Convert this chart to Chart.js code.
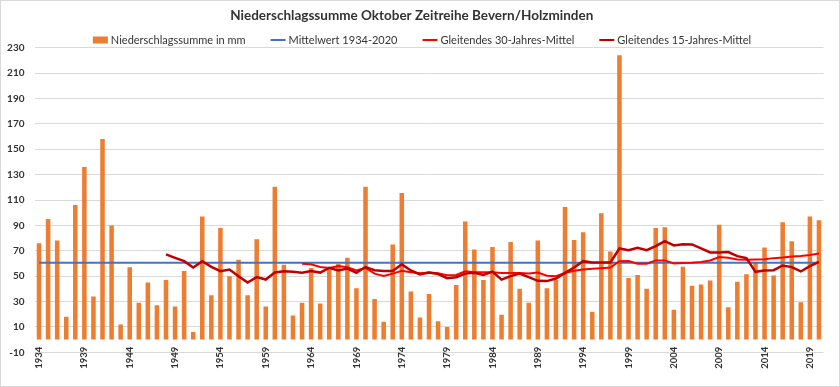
<!DOCTYPE html>
<html><head><meta charset="utf-8">
<script src="https://cdn.jsdelivr.net/npm/chart.js@4"></script>
<style>html,body{margin:0;padding:0;background:#fff}#wrap{width:840px;height:387px}</style>
</head><body><div id="wrap"><canvas id="c" width="840" height="387"></canvas></div>
<script>
const years = [1934,1935,1936,1937,1938,1939,1940,1941,1942,1943,
  1944,1945,1946,1947,1948,1949,1950,1951,1952,1953,
  1954,1955,1956,1957,1958,1959,1960,1961,1962,1963,
  1964,1965,1966,1967,1968,1969,1970,1971,1972,1973,
  1974,1975,1976,1977,1978,1979,1980,1981,1982,1983,
  1984,1985,1986,1987,1988,1989,1990,1991,1992,1993,
  1994,1995,1996,1997,1998,1999,2000,2001,2002,2003,
  2004,2005,2006,2007,2008,2009,2010,2011,2012,2013,
  2014,2015,2016,2017,2018,2019,2020];
const precip = [76,95,78,18,106,136,34,158,90,12,
  57,29,45,27,47,26,54,6,97,35,
  88,50,63,35,79,26,120.5,59,19,29,
  56.5,28.5,57,59.5,64.5,40.5,120.5,32,14,75,
  115.5,38,17.5,36,14.5,10,43,93,71,47,
  73,19.5,77,40,29,78,40.5,47,104.5,78.5,
  84.5,22,99.5,69.5,224,48.5,51,40,88,88.5,
  23.5,57.5,42.5,43.5,46.5,90.5,25.5,45.5,51.5,60.5,
  72.5,50.5,92.5,77.5,29.5,97,94];
const meanValue = 60.5;
const ma30 = [null,null,null,null,null,null,null,null,null,null,
  null,null,null,null,null,null,null,null,null,null,
  null,null,null,null,null,null,null,null,null,59.7,
  59.3,57.2,56.5,58,57,54.5,56.5,52,50.2,52,
  54.2,53,52.3,52.8,52.3,50.8,51,53.8,53,53,
  53,52.5,52.5,52.5,52,52.9,50.3,50,52.5,54.3,
  55.2,55.8,56.3,56.8,61.8,62,59.8,59.8,62.4,62.4,
  60,60.3,60.6,61.1,62.4,65,64.5,63.2,62.9,63.2,
  63.4,64.2,64.7,65.5,65.8,66.6,67.9];
const ma15 = [null,null,null,null,null,null,null,null,null,null,
  null,null,null,null,67.1,64.4,61.8,56.8,61.8,57.3,
  53.9,55.2,50,45,49.2,47.3,52.9,53.9,53.4,52.6,
  54,52.8,56.5,54.5,56,52.6,57.2,54.7,54,54,
  59.3,54.5,51.3,52.8,51.7,48.4,49.2,52,52.6,51,
  53.6,47.3,50,52,49.2,46.3,46.1,48.1,52.6,56.8,
  61.8,60.8,60.8,60.8,71.8,70.5,72.3,70.5,73.6,77.6,
  74.2,75.2,75,71.8,68.7,68.7,69,65.8,64.2,53.4,
  54.5,54.7,58.4,57.1,53.7,57.9,61.2];
const tickYears = [1934,1939,1944,1949,1954,1959,1964,1969,1974,1979,1984,1989,1994,1999,2004,2009,2014,2019];
const seriesNames = ['Niederschlagssumme in mm','Mittelwert 1934-2020','Gleitendes 30-Jahres-Mittel','Gleitendes 15-Jahres-Mittel'];
const chartTitle = 'Niederschlagssumme Oktober Zeitreihe Bevern/Holzminden';

const FONT = 'Lato';

const bgPlugin = {
  id: 'bg',
  beforeDraw(chart) {
    const ctx = chart.ctx;
    ctx.save();
    ctx.fillStyle = '#fff';
    ctx.fillRect(0, 0, chart.width, chart.height);
    ctx.strokeStyle = '#d9d9d9';
    ctx.lineWidth = 1;
    ctx.strokeRect(0.5, 0.5, chart.width - 1, chart.height - 1);
    ctx.restore();
  }
};

const legendPlugin = {
  id: 'customLegend',
  afterDraw(chart) {
    const ctx = chart.ctx;
    ctx.save();
    ctx.font = '11px ' + FONT;
    ctx.textBaseline = 'middle';
    ctx.textAlign = 'left';
    const items = chart.data.datasets.map(ds => ({
      text: ds.label,
      bar: ds.type === 'bar',
      color: ds.type === 'bar' ? ds.backgroundColor : ds.borderColor,
      lw: ds.borderWidth
    }));
    const boxW = 15, gap = 3, itemGap = 25;
    let total = 0;
    items.forEach((it, i) => { it.w = ctx.measureText(it.text).width; total += boxW + gap + it.w + (i ? itemGap : 0); });
    let x = 422 - total / 2;
    const y = 40;
    items.forEach(it => {
      if (it.bar) {
        ctx.fillStyle = it.color;
        ctx.fillRect(x, y - 3.5, boxW, 7);
      } else {
        ctx.strokeStyle = it.color;
        ctx.lineWidth = 2;
        ctx.beginPath();
        ctx.moveTo(x, y);
        ctx.lineTo(x + boxW, y);
        ctx.stroke();
      }
      ctx.fillStyle = '#333';
      ctx.fillText(it.text, x + boxW + gap, y + 0.5);
      x += boxW + gap + it.w + itemGap;
    });
    ctx.restore();
  }
};

new Chart(document.getElementById('c'), {
  type: 'bar',
  data: {
    labels: years.map(String),
    datasets: [
      { type: 'bar', label: seriesNames[0], data: precip, backgroundColor: '#ED7D31', borderWidth: 0,
        barPercentage: 0.5, categoryPercentage: 1.0, order: 4 },
      { type: 'line', label: seriesNames[1], data: years.map(() => meanValue), borderColor: '#4472C4', borderWidth: 2,
        pointRadius: 0, tension: 0, fill: false, order: 3 },
      { type: 'line', label: seriesNames[2], data: ma30, borderColor: '#FF0000', borderWidth: 2,
        pointRadius: 0, tension: 0, fill: false, spanGaps: false, order: 2 },
      { type: 'line', label: seriesNames[3], data: ma15, borderColor: '#C00000', borderWidth: 2.5,
        pointRadius: 0, tension: 0, fill: false, spanGaps: false, order: 1 }
    ]
  },
  options: {
    responsive: false,
    animation: false,
    devicePixelRatio: 1,
    layout: { padding: { left: 0, right: 16.5, top: 0, bottom: 0 } },
    plugins: {
      legend: { display: false },
      tooltip: { enabled: false },
      title: {
        display: true, text: chartTitle, color: '#333',
        font: { family: FONT, size: 13.5, weight: 'bold' },
        padding: { top: 8, bottom: 23.5 }
      }
    },
    scales: {
      x: {
        grid: { display: false, drawTicks: false },
        border: { display: false },
        ticks: {
          autoSkip: false, maxRotation: 90, minRotation: 90, padding: -5.5,
          color: '#333', font: { family: FONT, size: 9.5, weight: 'bold' },
          callback: function(val, idx) { return tickYears.includes(years[idx]) ? String(years[idx]) : ''; }
        },
        afterFit(scale) {
          scale.height = 34.7;
          scale._computeLabelArea = function() { return undefined; };
        }
      },
      y: {
        min: -10, max: 230,
        grid: { color: '#d9d9d9', lineWidth: 1, drawTicks: false },
        border: { display: false },
        ticks: { stepSize: 20, padding: 10, color: '#333', font: { family: FONT, size: 10, weight: 'bold' } },
        afterFit(scale) { scale.width = 34.5; }
      }
    }
  },
  plugins: [bgPlugin, legendPlugin]
});
</script>
</body></html>
